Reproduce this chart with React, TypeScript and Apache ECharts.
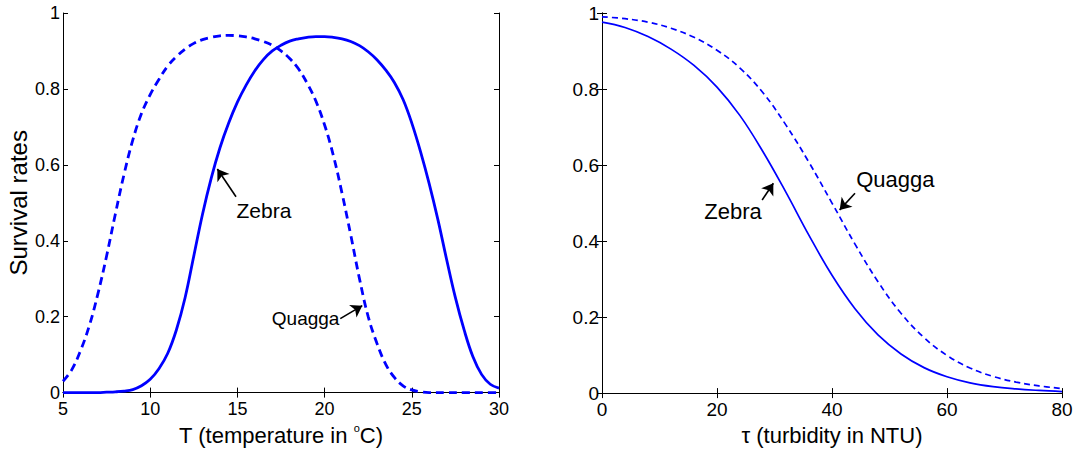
import React, { useEffect, useRef } from "react";
import * as echarts from "echarts";

// Left panel: survival vs temperature T (°C)
const tempX = [
  5, 6, 7, 7.5, 8, 8.5, 9, 9.5, 10, 10.5, 11, 11.5, 12, 12.5, 13, 13.5, 14, 14.5, 15, 15.5,
  16, 16.5, 17, 17.5, 18, 18.5, 19, 19.5, 20, 20.5, 21, 21.5, 22, 22.5, 23, 23.5, 24, 24.5,
  25, 25.5, 26, 26.5, 27, 27.5, 28, 28.5, 29, 29.5, 30,
];
const tempZebra = [
  0, 0, 0, 0.001, 0.002, 0.004, 0.008, 0.018, 0.035, 0.063, 0.103, 0.165, 0.25, 0.36, 0.47,
  0.565, 0.645, 0.71, 0.765, 0.81, 0.848, 0.878, 0.9, 0.915, 0.926, 0.932, 0.936, 0.938, 0.938,
  0.936, 0.932, 0.925, 0.914, 0.898, 0.877, 0.85, 0.817, 0.772, 0.71, 0.635, 0.55, 0.455, 0.35,
  0.25, 0.165, 0.095, 0.048, 0.022, 0.012,
];
const tempQuaggaX = [
  5, 5.5, 6, 6.5, 7, 7.5, 8, 8.5, 9, 9.5, 10, 10.5, 11, 11.5, 12, 12.5, 13, 13.5, 14, 14.5, 15,
  15.5, 16, 16.5, 17, 17.5, 18, 18.5, 19, 19.5, 20, 20.5, 21, 21.5, 22, 22.5, 23, 23.5, 24, 24.5,
  25, 25.5, 26, 27, 28, 29, 30,
];
const tempQuagga = [
  0.03, 0.06, 0.11, 0.175, 0.26, 0.36, 0.47, 0.575, 0.665, 0.735, 0.785, 0.825, 0.86, 0.885,
  0.905, 0.92, 0.93, 0.936, 0.94, 0.941, 0.94, 0.937, 0.932, 0.925, 0.915, 0.9, 0.88, 0.853,
  0.815, 0.768, 0.705, 0.625, 0.525, 0.415, 0.3, 0.2, 0.13, 0.075, 0.04, 0.018, 0.007, 0.002, 0,
  0, 0, 0, 0,
];

// Right panel: survival vs turbidity τ (NTU)
const turbX = [0, 4, 8, 12, 16, 20, 24, 28, 32, 36, 40, 44, 48, 52, 56, 60, 64, 68, 72, 76, 80];
const turbZebra = [
  0.976, 0.962, 0.938, 0.905, 0.862, 0.805, 0.73, 0.635, 0.528, 0.415, 0.31, 0.222, 0.153, 0.103,
  0.067, 0.043, 0.027, 0.017, 0.011, 0.007, 0.004,
];
const turbQuagga = [
  0.99, 0.985, 0.976, 0.96, 0.936, 0.902, 0.855, 0.79, 0.705, 0.607, 0.5, 0.392, 0.293, 0.21,
  0.146, 0.099, 0.066, 0.044, 0.029, 0.019, 0.012,
];

const yTicks = [0, 0.2, 0.4, 0.6, 0.8, 1];
const tempTicks = [5, 10, 15, 20, 25, 30];
const turbTicks = [0, 20, 40, 60, 80];

// Annotations (data coordinates)
const leftZebraNote = { text: "Zebra", at: [14.95, 0.48], from: [14.92, 0.516], to: [13.85, 0.589] };
const leftQuaggaNote = { text: "Quagga", at: [20.85, 0.195], from: [20.9, 0.195], to: [22.16, 0.229] };
const rightZebraNote = { text: "Zebra", at: [27.8, 0.477], from: [27.85, 0.508], to: [29.8, 0.552] };
const rightQuaggaNote = { text: "Quagga", at: [44.2, 0.5625], from: [44.0, 0.526], to: [41.33, 0.482] };

const FONT = "'Liberation Sans', Arial, Helvetica, sans-serif";
const BLUE = "#0000ff";

const zip = (xs: number[], ys: number[]) => xs.map((x, i) => [x, ys[i]]);

function arrow(from: number[], to: number[]) {
  return {
    silent: true,
    symbol: ["none", "arrow"],
    symbolSize: 11,
    lineStyle: { color: "#000", width: 1.6, type: "solid" },
    itemStyle: { color: "#000" },
    label: { show: false },
    data: [[{ coord: from }, { coord: to }]],
  };
}

function note(at: number[], text: string, align: string, size: number) {
  return {
    silent: true,
    symbol: "rect",
    symbolSize: 0,
    label: {
      show: true,
      position: "inside",
      formatter: text,
      color: "#000",
      fontFamily: FONT,
      fontSize: size,
      align,
      verticalAlign: "middle",
    },
    data: [{ coord: at }],
  };
}

export default function App() {
  const ref = useRef<HTMLDivElement>(null);
  useEffect(() => {
    if (!ref.current) return;
    const chart = echarts.init(ref.current, null, { renderer: "svg" });
    const labelFmt = (v: number) => String(+v.toFixed(1));
    const axisLine = { show: true, lineStyle: { color: "#000", width: 1 } };
    const tick = { show: true, inside: true, length: 5, lineStyle: { color: "#000" } };
    const tickLabel = (fs: number) => ({ color: "#000", fontFamily: FONT, fontSize: fs });
    const mkX = (gi: number, ticks: number[], interval: number, name: any, rich: any, fs: number) => [
      {
        type: "value", gridIndex: gi, min: ticks[0], max: ticks[ticks.length - 1], interval,
        position: "bottom",
        axisLine, axisTick: tick, splitLine: { show: false },
        axisLabel: { ...tickLabel(fs), margin: 7, formatter: labelFmt },
        name, nameLocation: "middle", nameGap: 27,
        nameTextStyle: { color: "#000", fontFamily: FONT, fontSize: 22, rich },
      },
      {
        type: "value", gridIndex: gi, min: ticks[0], max: ticks[ticks.length - 1], interval,
        position: "top",
        axisLine, axisTick: tick, splitLine: { show: false }, axisLabel: { show: false },
      },
    ];
    const mkY = (gi: number, name: string, fs: number) => [
      {
        type: "value", gridIndex: gi, min: yTicks[0], max: yTicks[yTicks.length - 1], interval: 0.2,
        position: "left",
        axisLine, axisTick: tick, splitLine: { show: false },
        axisLabel: { ...tickLabel(fs), margin: 3, formatter: labelFmt },
        name, nameLocation: "middle", nameGap: 33,
        nameTextStyle: { color: "#000", fontFamily: FONT, fontSize: 24 },
      },
      {
        type: "value", gridIndex: gi, min: yTicks[0], max: yTicks[yTicks.length - 1], interval: 0.2,
        position: "right",
        axisLine, axisTick: tick, splitLine: { show: false }, axisLabel: { show: false },
      },
    ];
    const degRich = {
      s: { fontSize: 11, fontFamily: FONT, color: "#000", padding: [0, 0, 14, 0] },
    };
    chart.setOption({
      animation: false,
      backgroundColor: "#fff",
      grid: [
        { left: 63, right: 577, top: 13, bottom: 54 },
        { left: 602, right: 14, top: 13, bottom: 54 },
      ],
      xAxis: [
        ...mkX(0, tempTicks, 5, "T (temperature in {s|o}C)", degRich, 18),
        ...mkX(1, turbTicks, 20, "τ (turbidity in NTU)", {}, 19),
      ],
      yAxis: [...mkY(0, "Survival rates", 18), ...mkY(1, "", 19)],
      series: [
        {
          type: "line", xAxisIndex: 0, yAxisIndex: 0, data: zip(tempX, tempZebra), smooth: 0.4,
          showSymbol: false,
          lineStyle: { color: BLUE, width: 2.8 },
          markLine: arrow(leftZebraNote.from, leftZebraNote.to),
          markPoint: note(leftZebraNote.at, leftZebraNote.text, "left", 21),
        },
        {
          type: "line", xAxisIndex: 0, yAxisIndex: 0, data: zip(tempQuaggaX, tempQuagga), smooth: 0.4,
          showSymbol: false,
          lineStyle: { color: BLUE, width: 2.8, type: [8, 5] },
          markLine: arrow(leftQuaggaNote.from, leftQuaggaNote.to),
          markPoint: note(leftQuaggaNote.at, leftQuaggaNote.text, "right", 19),
        },
        {
          type: "line", xAxisIndex: 2, yAxisIndex: 2, data: zip(turbX, turbZebra), smooth: 0.4,
          showSymbol: false,
          lineStyle: { color: BLUE, width: 1.7 },
          markLine: arrow(rightZebraNote.from, rightZebraNote.to),
          markPoint: note(rightZebraNote.at, rightZebraNote.text, "right", 22),
        },
        {
          type: "line", xAxisIndex: 2, yAxisIndex: 2, data: zip(turbX, turbQuagga), smooth: 0.4,
          showSymbol: false,
          lineStyle: { color: BLUE, width: 1.7, type: [6, 4] },
          markLine: arrow(rightQuaggaNote.from, rightQuaggaNote.to),
          markPoint: note(rightQuaggaNote.at, rightQuaggaNote.text, "left", 22),
        },
      ],
    });
    return () => chart.dispose();
  }, []);
  return (
    <div
      ref={ref}
      style={{ position: "fixed", left: 0, top: 0, width: 1076, height: 451, background: "#fff" }}
    />
  );
}
